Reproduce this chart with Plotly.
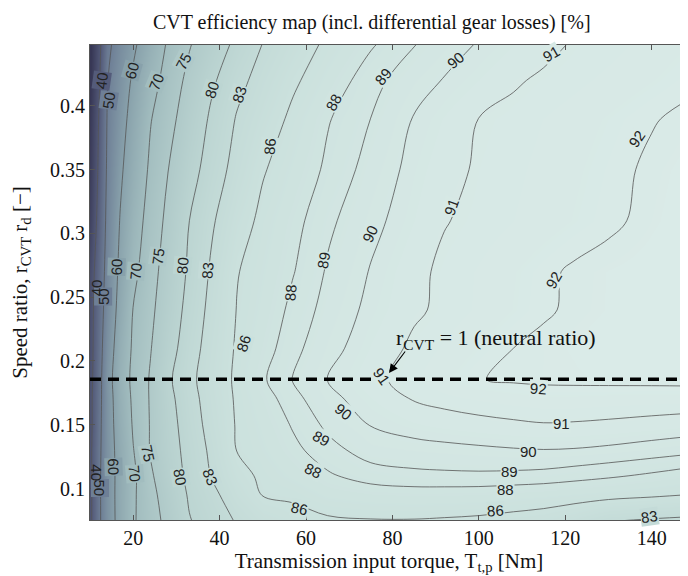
import plotly.graph_objects as go

# Grid (torque in Nm, speed ratio, efficiency in %)
torque = [10, 12, 14, 17, 20, 24, 28, 33, 38, 44, 50, 57, 65, 75, 85, 92, 100, 108, 115, 122, 130, 140, 150]
ratio = [0.074, 0.095, 0.11, 0.13, 0.15, 0.17, 0.1855, 0.21, 0.24, 0.27, 0.31, 0.35, 0.39, 0.42, 0.45]
efficiency = [
    [37.9, 48.4, 55.3, 63.1, 69.4, 73.1, 76.2, 79.8, 81.4, 83.2, 84.6, 85.3, 85.7, 85.85, 85.85, 85.75, 85.6, 85.3, 85.0, 84.3, 83.0, 82.6, 82.3],
    [37.9, 48.4, 55.5, 63.2, 69.2, 73.7, 77.0, 80.4, 82.2, 84.56, 86.08, 86.3, 87.04, 87.33, 87.44, 87.42, 87.37, 87.2, 87.05, 86.85, 86.63, 86.3, 85.95],
    [37.9, 48.4, 55.5, 63.1, 69.0, 74.4, 77.7, 80.9, 83.04, 85.26, 86.39, 87.06, 87.84, 88.5, 88.75, 88.8, 88.82, 88.76, 88.67, 88.45, 88.18, 87.8, 87.33],
    [38.0, 48.0, 55.5, 63.5, 69.8, 75.3, 78.3, 81.2, 83.45, 86.05, 86.81, 87.7, 88.61, 89.48, 89.63, 89.72, 89.82, 89.92, 89.97, 89.93, 89.8, 89.55, 89.27],
    [37.5, 47.5, 55.8, 64.3, 70.6, 75.3, 78.6, 81.6, 83.9, 86.19, 87.07, 88.12, 89.24, 90.04, 90.42, 90.6, 90.76, 90.87, 90.95, 90.92, 90.85, 90.72, 90.57],
    [37.6, 47.1, 55.8, 65.1, 71.1, 75.4, 79.0, 81.95, 84.2, 86.3, 87.4, 88.66, 89.71, 90.46, 91.05, 91.25, 91.4, 91.52, 91.6, 91.6, 91.55, 91.52, 91.5],
    [37.1, 46.7, 56.2, 65.9, 71.5, 75.4, 79.4, 82.3, 84.4, 86.42, 87.84, 89.06, 90.01, 90.79, 91.32, 91.62, 91.97, 92.1, 92.15, 92.17, 92.2, 92.22, 92.25],
    [36.6, 46.2, 55.0, 64.7, 71.0, 74.8, 78.5, 81.8, 84.1, 86.27, 87.45, 88.72, 89.67, 90.51, 91.16, 91.41, 91.71, 92.0, 92.15, 92.2, 92.3, 92.32, 92.35],
    [36.4, 45.5, 53.6, 63.0, 70.2, 74.1, 77.6, 81.2, 83.7, 86.07, 87.12, 88.32, 89.38, 90.24, 90.875, 91.16, 91.42, 91.69, 91.92, 92.1, 92.2, 92.28, 92.35],
    [35.5, 44.5, 52.7, 61.8, 68.6, 73.4, 76.9, 80.6, 83.3, 85.9, 86.87, 87.94, 89.12, 90.06, 90.81, 91.15, 91.4, 91.66, 91.89, 92.08, 92.2, 92.3, 92.4],
    [32.0, 42.6, 51.8, 60.4, 66.8, 72.4, 76.0, 80.0, 82.6, 85.0, 86.5, 87.6, 88.79, 89.74, 90.48, 90.96, 91.18, 91.36, 91.53, 91.7, 91.89, 92.15, 92.35],
    [30.0, 41.1, 51.0, 58.7, 64.7, 71.1, 74.9, 78.6, 81.5, 83.95, 85.84, 87.04, 88.25, 89.41, 90.29, 90.75, 91.1, 91.29, 91.46, 91.63, 91.83, 92.1, 92.3],
    [28.9, 40.0, 50.4, 57.0, 62.8, 69.7, 73.5, 77.3, 80.5, 83.2, 84.8, 86.44, 87.9, 89.01, 90.06, 90.51, 91.01, 91.2, 91.37, 91.53, 91.72, 91.96, 92.15],
    [27.3, 38.5, 49.7, 55.6, 61.1, 67.6, 72.2, 76.2, 79.4, 82.2, 84.0, 85.67, 87.16, 88.68, 89.56, 90.06, 90.48, 90.91, 91.12, 91.27, 91.45, 91.67, 91.9],
    [26.8, 37.4, 47.9, 53.9, 58.5, 64.8, 70.6, 74.6, 77.6, 80.75, 83.0, 84.7, 86.36, 87.8, 88.92, 89.47, 90.05, 90.43, 90.76, 91.05, 91.23, 91.47, 91.7],
]
levels = [40, 50, 60, 70, 75, 80, 83, 86, 88, 89, 90, 91, 92]

# Contour labels
label_text = [40, 50, 60, 70, 75, 80, 83, 86, 88, 89, 90, 91, 92,
              91, 92, 90, 89, 88, 86, 83, 80, 75, 70, 60, 50, 40,
              91, 90, 89, 88, 86, 83, 80, 75, 70, 60, 50, 40,
              92, 91, 90, 89, 88, 86, 83, 86]
label_x = [12.7, 14.4, 19.65, 25.44, 31.6, 38.2, 44.56, 51.67, 66.32, 77.9, 94.5, 116.9, 136.55,
           93.73, 117.2, 74.8, 64.0, 56.3, 45.5, 37.3, 31.53, 25.8, 20.65, 16.18, 13.08, 11.4,
           77.52, 68.63, 63.6, 61.69, 58.6, 37.78, 30.83, 23.5, 20.42, 15.4, 12.31, 11.3,
           113.77, 119.2, 111.46, 107.2, 106.06, 103.75, 139.6, 149.0]
label_y = [0.420, 0.404, 0.428, 0.419, 0.435, 0.413, 0.409, 0.368, 0.403, 0.423, 0.436, 0.441, 0.3747,
           0.321, 0.2635, 0.3002, 0.279, 0.2533, 0.2139, 0.2714, 0.2745, 0.2818, 0.270, 0.274, 0.2504, 0.257,
           0.1877, 0.1602, 0.1394, 0.1145, 0.0845, 0.1093, 0.1093, 0.1276, 0.112, 0.1171, 0.100, 0.1122,
           0.1786, 0.1511, 0.1289, 0.1137, 0.0996, 0.0831, 0.0779, 0.0973]
label_angle = [-82, -82, -75, -68, -62, -72, -72, -85, -62, -50, -40, -30, -55,
               -70, -60, -65, -80, -85, -72, -85, -85, -82, -85, -88, -90, -90,
               55, 38, 30, 25, 12, 68, 80, 78, 85, 88, 90, 90,
               4, 0, 0, 0, 0, -3, -8, -10]

neutral_ratio = 0.1856
x_ticks = [20, 40, 60, 80, 100, 120, 140]
y_ticks = [0.1, 0.15, 0.2, 0.25, 0.3, 0.35, 0.4]
y_tick_text = ["0.1", "0.15", "0.2", "0.25", "0.3", "0.35", "0.4"]

ZMIN, ZMAX = 28, 93
colorscale = [
    [0.0, "#373755"],
    [0.185, "#545b7a"],
    [0.338, "#6e7f96"],
    [0.49, "#88a1ab"],
    [0.646, "#a2bdbf"],
    [0.8, "#bcd5d2"],
    [0.89, "#cbe1dd"],
    [0.985, "#d9eae7"],
    [1.0, "#ddedea"],
]


def color_at(z):
    t = min(max((z - ZMIN) / (ZMAX - ZMIN), 0), 1)
    for (t0, c0), (t1, c1) in zip(colorscale[:-1], colorscale[1:]):
        if t0 <= t <= t1:
            f = (t - t0) / (t1 - t0) if t1 > t0 else 0
            a = [int(c0[i:i + 2], 16) for i in (1, 3, 5)]
            b = [int(c1[i:i + 2], 16) for i in (1, 3, 5)]
            return "rgb(%d,%d,%d)" % tuple(round(a[k] + f * (b[k] - a[k])) for k in range(3))
    return colorscale[-1][1]


serif = "Liberation Serif, Times New Roman, serif"

fig = go.Figure()
fig.add_trace(go.Heatmap(
    x=torque, y=ratio, z=efficiency, zsmooth="best",
    colorscale=colorscale, zmin=ZMIN, zmax=ZMAX, showscale=False, hoverinfo="skip",
))
for lv in levels:
    fig.add_trace(go.Contour(
        x=torque, y=ratio, z=efficiency, showscale=False, hoverinfo="skip",
        contours=dict(start=lv, end=lv, size=1, coloring="none", showlabels=False),
        line=dict(color="#555555", width=0.8),
    ))

for t, lx, ly, la in zip(label_text, label_x, label_y, label_angle):
    edge = lx < 12
    fig.add_annotation(x=lx, y=ly, xref="x", yref="y", text=str(t), showarrow=False, textangle=la,
                       bgcolor="rgba(0,0,0,0)" if edge else color_at(t), borderpad=0,
                       font=dict(family="Liberation Sans, Arial, sans-serif", size=15, color="#222"))

fig.add_shape(type="line", xref="paper", x0=0, x1=1, yref="y", y0=neutral_ratio, y1=neutral_ratio,
              line=dict(color="black", width=3.5, dash="11px,7px"))

fig.add_annotation(x=79.2, y=0.1906, ax=83.2, ay=0.2086, xref="x", yref="y", axref="x", ayref="y",
                   text="", showarrow=True, arrowhead=2, arrowsize=1.6, arrowwidth=1.1, arrowcolor="black")
fig.add_annotation(x=80.4, y=0.2175, xref="x", yref="y", xanchor="left", yanchor="middle",
                   text="r<sub>CVT</sub> = 1 (neutral ratio)", showarrow=False,
                   font=dict(family=serif, size=22, color="#111"))

axis_common = dict(showline=True, linecolor="#555", linewidth=1, mirror="ticks", ticks="inside",
                   ticklen=5, tickcolor="#555", showgrid=False, zeroline=False,
                   tickfont=dict(family=serif, size=20, color="#111"))
fig.update_xaxes(range=[10, 148.4], tickvals=x_ticks,
                 title=dict(text="Transmission input torque, T<sub>t,p</sub> [Nm]", standoff=4,
                            font=dict(family=serif, size=21, color="#111")),
                 **axis_common)
fig.update_yaxes(range=[0.0753, 0.4478], tickvals=y_ticks, ticktext=y_tick_text,
                 title=dict(text="Speed ratio, r<sub>CVT</sub> r<sub>d</sub> [−]", standoff=17,
                            font=dict(family=serif, size=21, color="#111")),
                 **axis_common)
# the page body adds an 8 px offset, so the figure is 8 px smaller than the window
fig.update_layout(
    width=680, height=568, margin=dict(l=82, r=0, t=37, b=56),
    paper_bgcolor="white", plot_bgcolor="white", showlegend=False,
    title=dict(text="CVT efficiency map (incl. differential gear losses) [%]", x=0.535, xanchor="center",
               y=0.975, yanchor="middle", font=dict(family=serif, size=20, color="#111")),
)
fig.write_html("out.html")
